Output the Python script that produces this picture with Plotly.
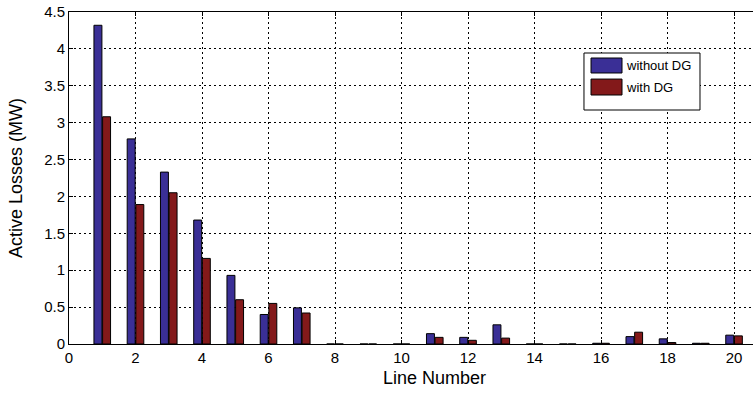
import plotly.graph_objects as go

lines = list(range(1, 21))
without_dg = [4.32, 2.78, 2.33, 1.68, 0.93, 0.40, 0.49, 0.0, 0.0, 0.0,
              0.14, 0.09, 0.26, 0.0, 0.0, 0.01, 0.10, 0.07, 0.01, 0.12]
with_dg = [3.08, 1.89, 2.05, 1.16, 0.60, 0.55, 0.42, 0.0, 0.0, 0.0,
           0.09, 0.05, 0.08, 0.0, 0.0, 0.01, 0.16, 0.02, 0.01, 0.11]
x_ticks = [0, 2, 4, 6, 8, 10, 12, 14, 16, 18, 20]
y_ticks = [0, 0.5, 1, 1.5, 2, 2.5, 3, 3.5, 4, 4.5]
series_names = ["without DG", "with DG"]
series_colors = ["#3a2f96", "#83191a"]

FONT = "Liberation Sans, Arial, Helvetica, sans-serif"

fig = go.Figure()
for name, vals, col in zip(series_names, [without_dg, with_dg], series_colors):
    fig.add_trace(go.Bar(x=lines, y=vals, name=name, showlegend=False,
                         marker=dict(color=col, line=dict(color="black", width=1))))

# custom legend (paper coordinates)
fig.add_shape(type="rect", xref="paper", yref="paper",
              x0=0.7529, x1=0.9225, y0=0.7048, y1=0.8765,
              fillcolor="white", line=dict(color="black", width=1), layer="above")
sw_y = [(0.8163, 0.8614), (0.750, 0.798)]
txt_y = [0.838, 0.773]
for name, col, (y0, y1), ty in zip(series_names, series_colors, sw_y, txt_y):
    fig.add_shape(type="rect", xref="paper", yref="paper",
                  x0=0.7632, x1=0.8085, y0=y0, y1=y1,
                  fillcolor=col, line=dict(color="black", width=1), layer="above")
    fig.add_annotation(xref="paper", yref="paper", x=0.8114, y=ty,
                       xanchor="left", yanchor="middle", text=name,
                       showarrow=False, font=dict(size=13, color="black"))

# x-axis title (centred on the original, wider axis which is cropped at the right)
fig.add_annotation(xref="paper", yref="paper", x=0.534, y=-0.102,
                   xanchor="center", yanchor="middle", text="Line Number",
                   showarrow=False, font=dict(size=18, color="black"))

fig.update_layout(
    width=753, height=397,
    margin=dict(l=69, r=0, t=12, b=53),
    plot_bgcolor="white", paper_bgcolor="white",
    barmode="group", bargap=0.48, bargroupgap=0.08,
    font=dict(family=FONT, size=15, color="black"),
    showlegend=False,
)
fig.update_xaxes(
    range=[0, 20.57], tickvals=x_ticks, ticktext=[str(v) for v in x_ticks],
    showline=True, linecolor="black", linewidth=1, mirror="ticks",
    ticks="inside", ticklen=4, tickcolor="black",
    showgrid=True, gridcolor="black", griddash="2px,3px", gridwidth=1,
    zeroline=False, automargin=False,
    tickfont=dict(size=15),
)
fig.update_yaxes(
    range=[0, 4.5], tickvals=y_ticks, ticktext=[f"{v:g}" for v in y_ticks],
    showline=True, linecolor="black", linewidth=1, mirror=False,
    ticks="inside", ticklen=4, tickcolor="black",
    showgrid=True, gridcolor="black", griddash="2px,3px", gridwidth=1,
    zeroline=False, automargin=False, ticklabeloverflow="allow",
    title=dict(text="Active Losses (MW)", font=dict(size=18), standoff=16),
    tickfont=dict(size=15),
)

fig.write_html(
    "out.html",
    config={"displayModeBar": False, "staticPlot": True},
    post_script="document.body.style.margin='0';document.body.style.overflow='hidden';",
)
